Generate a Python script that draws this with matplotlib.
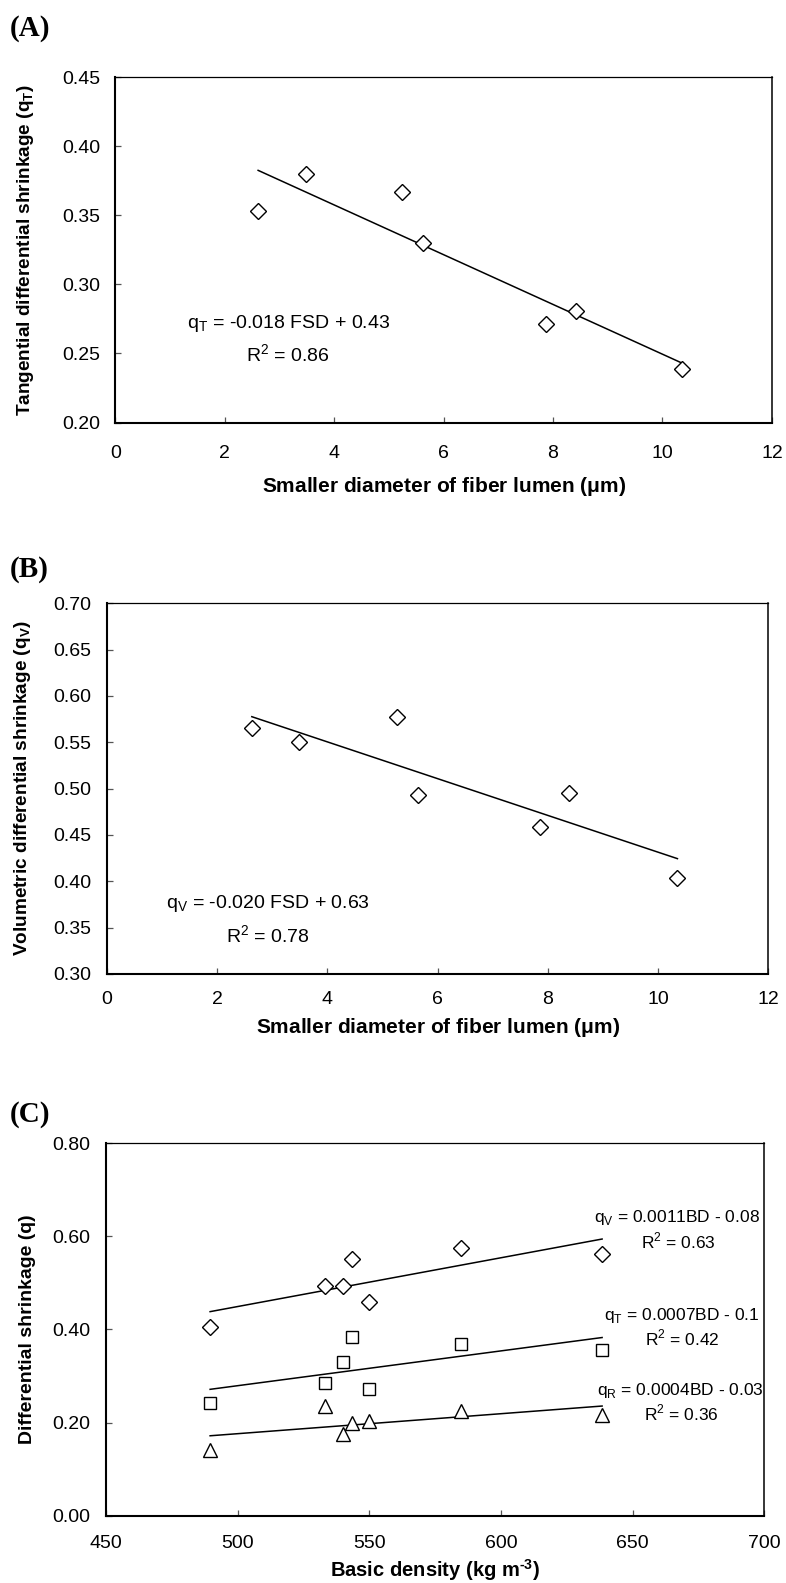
import numpy as np
import matplotlib
matplotlib.use("Agg")
import matplotlib.pyplot as plt

plt.rcParams['font.family'] = ['Liberation Sans', 'DejaVu Sans']
plt.rcParams['mathtext.fontset'] = 'custom'
plt.rcParams['mathtext.rm'] = 'Liberation Sans'

# (A) tangential differential shrinkage vs fiber lumen diameter
fsd_a = [2.61, 3.49, 5.24, 5.63, 7.88, 8.42, 10.35]
qt_a = [0.353, 0.380, 0.367, 0.330, 0.271, 0.281, 0.239]

# (B) volumetric differential shrinkage vs fiber lumen diameter
fsd_b = [2.63, 3.48, 5.26, 5.64, 7.86, 8.39, 10.35]
qv_b = [0.565, 0.550, 0.577, 0.493, 0.459, 0.495, 0.404]

# (C) differential shrinkage vs basic density
bd = [489.6, 533.2, 540.0, 543.6, 549.8, 585.0, 638.4]
qv_c = [0.405, 0.494, 0.494, 0.552, 0.459, 0.576, 0.563]
qt_c = [0.242, 0.284, 0.331, 0.383, 0.273, 0.369, 0.356]
qr_c = [0.140, 0.236, 0.175, 0.200, 0.203, 0.225, 0.216]

fig = plt.figure(figsize=(7.86, 15.83), dpi=100)

axA = fig.add_axes([0.1467, 0.7331, 0.8354, 0.2182])
axB = fig.add_axes([0.1359, 0.3848, 0.8417, 0.2341])
axC = fig.add_axes([0.1346, 0.0426, 0.8379, 0.2351])


def style(ax, xpad):
    ax.spines['left'].set_linewidth(1.5)
    ax.spines['bottom'].set_linewidth(1.5)
    ax.spines['top'].set_linewidth(0.9)
    ax.spines['right'].set_linewidth(1.1)
    ax.tick_params(direction='in', length=4.3, width=0.9, color='#555555',
                   labelsize=14)
    ax.tick_params(axis='x', pad=xpad)
    ax.tick_params(axis='y', pad=11)


def fit_line(ax, x, y):
    x = np.array(x)
    k, b = np.polyfit(x, y, 1)
    xx = np.array([x.min(), x.max()])
    ax.plot(xx, k * xx + b, color='black', lw=1.1)


mk = dict(linestyle='none', markerfacecolor='white', markeredgecolor='black',
          markeredgewidth=1.0, zorder=3)

# ---- A ----
fit_line(axA, fsd_a, qt_a)
axA.plot(fsd_a, qt_a, marker='D', markersize=7.8, **mk)
axA.set_xlim(0, 12)
axA.set_ylim(0.20, 0.45)
axA.set_xticks(range(0, 13, 2))
axA.set_yticks(np.arange(0.20, 0.451, 0.05))
axA.yaxis.set_major_formatter(matplotlib.ticker.FormatStrFormatter('%.2f'))
style(axA, 16)
axA.text(3.16, 0.272, r'q$_\mathregular{T}$ = -0.018 FSD + 0.43', fontsize=14,
         ha='center', va='center')
axA.text(3.16, 0.249, r'R$^\mathregular{2}$ = 0.86', fontsize=14,
         ha='center', va='center')
axA.set_xlabel(r'Smaller diameter of fiber lumen ($\mathregular{\mu}$m)',
               fontsize=15, fontweight='bold')
axA.set_ylabel(r'Tangential differential shrinkage (q$_\mathregular{T}$)',
               fontsize=13.7, fontweight='bold')
axA.xaxis.set_label_coords(0.5, -0.185)
axA.xaxis.label.set_va('center')
axA.yaxis.set_label_coords(-0.121, 0.5)

# ---- B ----
fit_line(axB, fsd_b, qv_b)
axB.plot(fsd_b, qv_b, marker='D', markersize=7.8, **mk)
axB.set_xlim(0, 12)
axB.set_ylim(0.30, 0.70)
axB.set_xticks(range(0, 13, 2))
axB.set_yticks(np.arange(0.30, 0.701, 0.05))
axB.yaxis.set_major_formatter(matplotlib.ticker.FormatStrFormatter('%.2f'))
style(axB, 12.5)
axB.text(2.92, 0.376, r'q$_\mathregular{V}$ = -0.020 FSD + 0.63', fontsize=14,
         ha='center', va='center')
axB.text(2.92, 0.341, r'R$^\mathregular{2}$ = 0.78', fontsize=14,
         ha='center', va='center')
axB.set_xlabel(r'Smaller diameter of fiber lumen ($\mathregular{\mu}$m)',
               fontsize=15, fontweight='bold')
axB.set_ylabel(r'Volumetric differential shrinkage (q$_\mathregular{V}$)',
               fontsize=13.7, fontweight='bold')
axB.xaxis.set_label_coords(0.5, -0.1436)
axB.xaxis.label.set_va('center')
axB.yaxis.set_label_coords(-0.1115, 0.5)

# ---- C ----
fit_line(axC, bd, qv_c)
fit_line(axC, bd, qt_c)
fit_line(axC, bd, qr_c)
axC.plot(bd, qv_c, marker='D', markersize=7.8, **mk)
axC.plot(bd, qt_c, marker='s', markersize=8.3, **mk)
axC.plot(bd, qr_c, marker='^', markersize=10, **mk)
axC.set_xlim(450, 700)
axC.set_ylim(0, 0.80)
axC.set_xticks(range(450, 701, 50))
axC.set_yticks(np.arange(0, 0.801, 0.2))
axC.yaxis.set_major_formatter(matplotlib.ticker.FormatStrFormatter('%.2f'))
style(axC, 14)
eqs = [(666.9, 0.640, r'q$_\mathregular{V}$ = 0.0011BD - 0.08'),
       (667.3, 0.589, r'R$^\mathregular{2}$ = 0.63'),
       (668.5, 0.431, r'q$_\mathregular{T}$ = 0.0007BD - 0.1'),
       (668.9, 0.382, r'R$^\mathregular{2}$ = 0.42'),
       (668.1, 0.268, r'q$_\mathregular{R}$ = 0.0004BD - 0.03'),
       (668.5, 0.221, r'R$^\mathregular{2}$ = 0.36')]
for x, y, s in eqs:
    axC.text(x, y, s, fontsize=12.5, ha='center', va='center')
axC.set_xlabel('Basic density (kg m$^\\mathregular{\u2010 3}$)'.replace('\u2010 ', '\u2010'),
               fontsize=14.5, fontweight='bold')
axC.set_ylabel('Differential shrinkage (q)', fontsize=14, fontweight='bold')
axC.xaxis.set_label_coords(0.5, -0.147)
axC.xaxis.label.set_va('center')
axC.yaxis.set_label_coords(-0.106, 0.5)

for lab, y in [('(A)', 0.982), ('(B)', 0.640), ('(C)', 0.296)]:
    fig.text(0.0127, y, lab, fontsize=21, fontweight='bold',
             family=['Liberation Serif', 'DejaVu Serif'], va='center')

fig.savefig('out.png', dpi=100)
